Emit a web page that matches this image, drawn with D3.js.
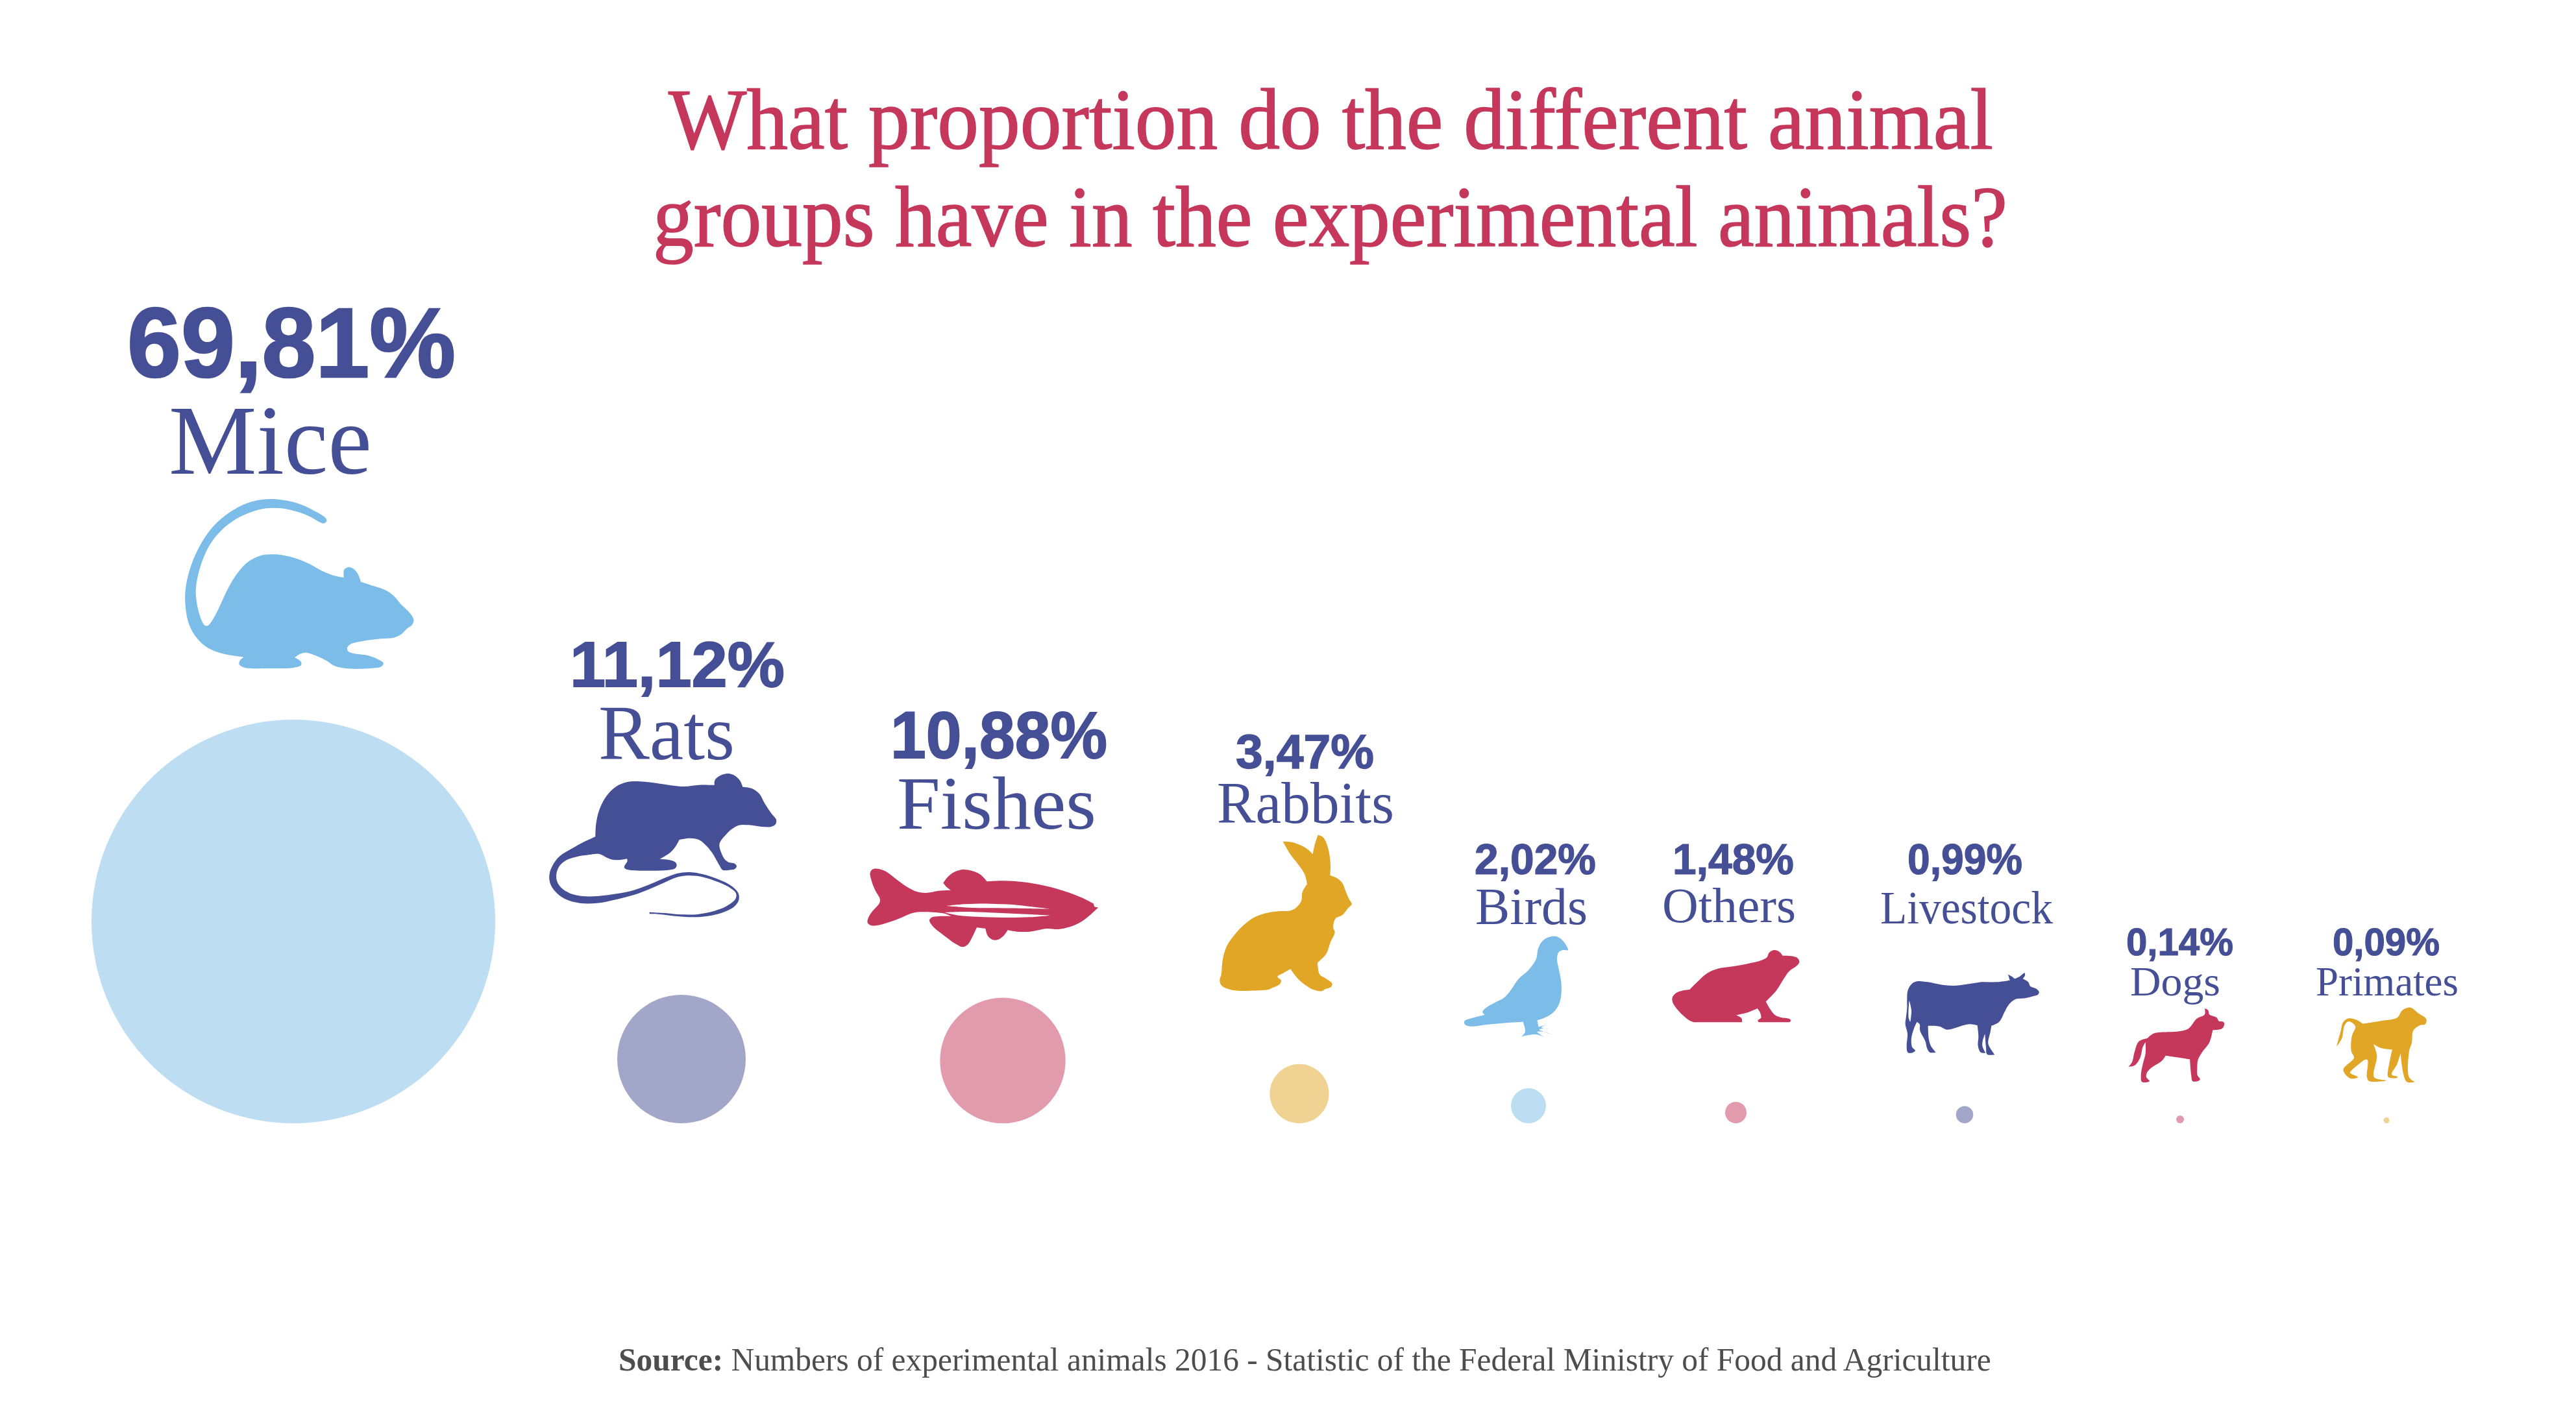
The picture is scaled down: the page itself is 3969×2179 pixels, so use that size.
<!DOCTYPE html>
<html>
<head>
<meta charset="utf-8">
<style>
html,body{margin:0;padding:0;background:#fff}
svg{display:block}
</style>
<script src="https://cdnjs.cloudflare.com/ajax/libs/d3/7.8.5/d3.min.js"></script>
</head>
<body>
<svg id="chart" width="3969" height="2179" viewBox="0 0 3969 2179"></svg>
<script>
// ---- data ----
const categories = ["Mice","Rats","Fishes","Rabbits","Birds","Others","Livestock","Dogs","Primates"];
const shares = [69.81,11.12,10.88,3.47,2.02,1.48,0.99,0.14,0.09];
const seriesColors = ["#7cbce8","#454f95","#c6375c","#e2a626","#7cbce8","#c6375c","#454f95","#c6375c","#e2a626"];
const titleLines = ["What proportion do the different animal","groups have in the experimental animals?"];
const sourceBold = "Source:";
const sourceText = " Numbers of experimental animals 2016 - Statistic of the Federal Ministry of Food and Agriculture";

// ---- layout ----
const width = 3969, height = 2179;
const circleBase = 1731;
const centerXs = [452,1050,1545,2002,2355,2674.5,3027,3359,3677];
const radiusStops = [4.5,6,13.3,16.5,27,45.6,96.7,99,311];
// [x0, x1, baseline, fontSize]
const valueBoxes = [[196,702,581,152],[878,1209,1058,99],[1372,1706,1168,102],[1904,2117,1184,74],[2272,2459,1347,67],[2577,2764,1347,67],[2939,3116,1347,67],[3276,3441,1472,59],[3594,3759,1472,59]];
const nameBoxes = [[260,573,730,153],[922,1132,1170,121],[1382,1689,1277,117],[1875,2148,1268,90],[2273,2446,1424,80],[2561,2767,1421,76],[2897,3163,1423,72],[3282,3421,1534,63],[3568,3788,1534,63]];
const titleBoxes = [[1030,3071,229,134],[1006,3093,379,134]];
const sourceBox = [953,3068,2112,51];

// ---- silhouettes: traced outlines; "!" marks a sharp corner (point doubled) ----
const C = (s)=> s.trim().split(/\s+/).flatMap(t=>{const sharp=t.endsWith("!");const p=t.replace("!","").split(",").map(Number);return sharp?[p,p]:[p];});
const icons = {
 Mice:{ox:270,oy:750,sx:1/3,sy:1/3,parts:[C(`695,145 640,110 560,75 450,57 370,65 290,95 210,150 150,215 100,300 65,390 47,480 48,560 65,640 100,700 150,745 220,772 316,788! 298,805 296,822 320,836 430,840 550,836 582,825 580,808 552,790! 580,772 605,767 660,785 700,805 735,828 790,840 900,840 955,830 962,815 935,797 890,780 825,771 800,762 795,745 810,728 870,713 950,703 1010,698 1045,682 1070,657 1095,638 1102,615 1085,585 1040,540 1010,505 975,480 920,460 858,440! 845,405 825,380 800,372 782,382 778,400 779,420! 730,410 680,390 620,357 560,332 500,317 440,313 390,320 340,345 295,390 255,450 225,510 200,565 170,620 150,643 135,640 115,600 100,540 95,480 105,410 130,330 165,260 215,200 280,150 350,118 420,100 490,100 560,115 620,137 670,165 685,170 700,160`)]},
 Rats:{ox:830,oy:1170,sx:1/3,sy:1/3,parts:[C(`812,120! 815,95 840,75 875,66 905,75 930,98 943,128! 985,135 1020,160 1045,205 1075,250 1098,280 1095,300 1075,312 1030,312 970,304 925,305 890,325 860,355 840,380 835,400 845,435 862,465 880,477 905,482 915,493 908,506 880,512 850,512 835,490 800,430 770,395 740,372 700,365 650,372! 635,400 610,430 560,462! 600,465 630,475 638,490 630,505 600,512 420,512 398,505 396,495 410,470 408,460! 380,465 345,465 315,455 280,438 230,442 170,452 125,468 95,495 82,530 85,565 105,595 145,620 205,633 280,632 360,622 440,605 510,580 580,550 640,528 700,522 760,532 830,555 890,585 922,618 925,650 905,680 860,705 800,722 720,730 630,725 560,717 512,715! 512,707! 590,712 660,718 740,716 810,702 870,678 910,645 912,620 885,595 830,568 760,545 700,538 640,545 570,575 500,605 430,630 350,650 270,665 190,665 120,645 75,610 52,570 50,530 65,490 95,450 150,415 210,382 262,358! 265,300 280,235 310,175 355,128 410,105 470,103 560,113 670,126 740,119`)]},
 Fishes:{ox:1320,oy:1320,sx:1/3,sy:1/3,parts:[C(`62,75 75,58 105,58 140,72 190,110 240,145 280,163 320,168 380,158 435,155! 415,140 400,122! 420,95 450,72 490,60 530,65 570,82 602,115! 680,112 770,118 870,135 960,160 1040,190 1095,218! 1100,232 1117,235! 1085,265 1040,300 985,325 930,336 880,333 800,347 740,347 698,340! 680,365 650,385 625,383 605,365 595,333! 555,328! 535,370 515,405 490,418 460,405 400,362 350,320 336,295 345,282 380,276 437,276! 405,263 350,257 290,256 255,262 200,285 150,303 95,318 65,318 50,305 55,280 75,250 105,215 107,195 85,155 68,110`),C(`415,228! 500,220 620,218 720,222 810,232 890,242! 790,240 650,238 520,236`),C(`405,258! 500,255 650,260 780,266 895,272! 800,280 680,282 560,278 470,272`)]},
 Rabbits:{ox:1860,oy:1275,sx:1/3,sy:1/3,parts:[C(`350,65! 390,68 430,82 465,102 488,124! 497,80 512,35! 535,45 552,75 565,125 570,180 568,222! 600,235 625,258 640,295 655,330 668,355 650,375 625,405 595,420 585,440 583,465 590,485 570,530 550,585 510,625! 520,680 548,698 578,722 572,738 545,748 530,757 490,750 455,730 415,695 385,655! 355,672 325,690 342,708 335,725 305,740 280,750 200,755 140,755 90,745 65,730 58,705 65,680 72,610 90,550 120,505 160,460 210,420 270,397 330,388 385,385 410,372 435,340 440,300 462,262! 450,215 420,170 385,125`)]},
 Birds:{ox:2240,oy:1430,sx:1/3,sy:1/3,parts:[C(`528,98 528,103 505,102 485,112 477,140 485,190 495,240 497,300 487,350 460,390 420,415 385,427! 392,458! 425,448! 405,460 450,470! 415,465 395,470 452,492! 415,480 385,480 415,503! 380,492 345,495 312,503! 330,480 320,434! 250,438 150,447 75,455 50,445 50,430 80,418 143,402! 133,388 150,368 190,345 235,320 265,285 300,235 345,195 380,145 390,95 410,60 440,42 475,40 505,60`)]},
 Others:{ox:2560,oy:1450,sx:1/3,sy:1/3,parts:[C(`130,225! 165,190 210,150 260,128 330,118 400,105 460,90 488,75 497,55 520,42 545,50 560,68! 600,70 630,80 637,98 625,115 590,140 565,175 530,230 482,280! 500,312 525,343 550,353 590,360 598,368 590,376! 450,376! 445,368 460,355 455,330 443,312! 400,330 345,343! 370,358 372,376! 150,376! 125,365 80,325 52,285 50,262 65,242 95,230`)]},
 Livestock:{ox:2920,oy:1480,sx:1/3,sy:1/3,parts:[C(`55,180 58,140 75,110 100,97 150,100 210,112 270,117 330,110 400,100 470,100 530,92! 522,65! 540,75 552,85! 575,75 598,58 600,70 590,85! 615,100 625,120 650,130 665,145 660,158 640,165 600,175 555,180 525,205 505,240 480,285 445,302! 440,330 430,385 445,415 460,436! 425,434 420,400 415,340! 405,370 403,395 418,428! 395,425 383,395 385,350 380,300! 340,295 290,308 240,320 205,305 152,302! 155,360 165,395 188,425! 160,425 147,405 140,375 115,325 113,295 100,285! 85,320 75,360 78,400 93,418 75,428 58,425 53,395 57,340 47,295 50,265 55,220`),C(`65,185! 75,230 70,285! 62,265`)]},
 Dogs:{ox:3200,oy:1400,sx:650/1568,sy:1/3,parts:[C(`475,462! 488,470 492,490 520,505 527,520 545,525 548,535 540,555 505,562! 500,590 490,625 465,665 450,700 447,740 448,770 458,790 450,798 430,798 425,770 420,697! 330,680! 315,705 275,738 260,760 258,780 270,798 242,802 238,770 245,720 255,670 255,618! 245,640 235,690 215,725 192,731! 205,710 215,660 230,615 262,600! 285,578 380,568 415,555 445,510 475,490`)]},
 Primates:{ox:3200,oy:1400,sx:650/1568,sy:1/3,parts:[C(`1063,533! 1130,520 1190,505 1210,470 1240,458 1270,485 1298,510 1295,535 1275,540 1250,565 1245,620 1235,660 1235,780 1257,802! 1225,800 1203,670! 1190,720 1170,768 1192,778 1190,783 1158,780 1155,770 1172,652! 1130,645 1102,627! 1115,680 1105,780 1150,795 1120,800 1085,797 1078,780 1080,700 1068,700! 1020,750 1015,760 1045,780 1015,785 990,745 1030,690 1020,660 1022,590 1035,545 1010,522 995,540 985,600 965,638! 980,570 990,525 1010,508 1040,515`)]}
};

// ---- scales ----
const xScale = d3.scaleOrdinal().domain(categories).range(centerXs);
const rScale = d3.scaleLinear().domain(d3.range(shares.length).map(i=>shares[shares.length-1-i])).range(radiusStops);
const colorScale = d3.scaleOrdinal().domain(categories).range(seriesColors);
const deLocale = d3.formatLocale({decimal:",",thousands:".",grouping:[3],currency:["","€"]});
const fmt = deLocale.format(".2f");

const rows = categories.map((name,i)=>({name,share:shares[i],value:valueBoxes[i],label:nameBoxes[i]}));
const svg = d3.select("#chart");
svg.append("rect").attr("width",width).attr("height",height).attr("fill","#fff");

// fits a text element horizontally between x0 and x1 by a horizontal scale
function fit(sel,box){
  const [x0,x1,base,size]=box;
  sel.attr("font-size",size).attr("text-anchor","start");
  const len=sel.node().getComputedTextLength();
  sel.attr("transform",`translate(${x0},${base}) scale(${(x1-x0)/len},1)`);
}

// title
titleLines.forEach((t,i)=>{
  svg.append("text").attr("class","title").text(t)
    .attr("font-family","'Liberation Serif',serif").attr("fill","#c6375c")
    .attr("stroke","#c6375c").attr("stroke-width",1.6)
    .call(fit,titleBoxes[i]);
});

// bubbles
svg.append("g").selectAll("circle").data(rows).join("circle")
  .attr("cx",d=>xScale(d.name))
  .attr("cy",d=>circleBase-rScale(d.share))
  .attr("r",d=>rScale(d.share))
  .attr("fill",d=>colorScale(d.name))
  .attr("fill-opacity",0.5);

// silhouettes
svg.append("g").selectAll("path").data(rows).join("path")
  .attr("fill",d=>colorScale(d.name))
  .attr("fill-rule","evenodd")
  .attr("d",d=>{
    const ic=icons[d.name];
    const line=d3.line().x(p=>ic.ox+p[0]*ic.sx).y(p=>ic.oy+p[1]*ic.sy).curve(d3.curveCatmullRomClosed.alpha(0.5));
    return ic.parts.map(line).join("");
  });

// labels
rows.forEach(d=>{
  svg.append("text").text(fmt(d.share)+"%")
    .attr("font-family","'Liberation Sans',Arial,sans-serif").attr("font-weight",700)
    .attr("fill","#454f95").attr("stroke","#454f95").attr("stroke-width",d.value[3]*0.018)
    .call(fit,d.value);
  svg.append("text").text(d.name)
    .attr("font-family","'Liberation Serif',serif")
    .attr("fill","#454f95").call(fit,d.label);
});

// source
const src = svg.append("text").attr("font-family","'Liberation Serif',serif").attr("fill","#4d4d4d");
src.append("tspan").attr("font-weight",700).text(sourceBold);
src.append("tspan").text(sourceText);
src.call(fit,sourceBox);
</script>
</body>
</html>
